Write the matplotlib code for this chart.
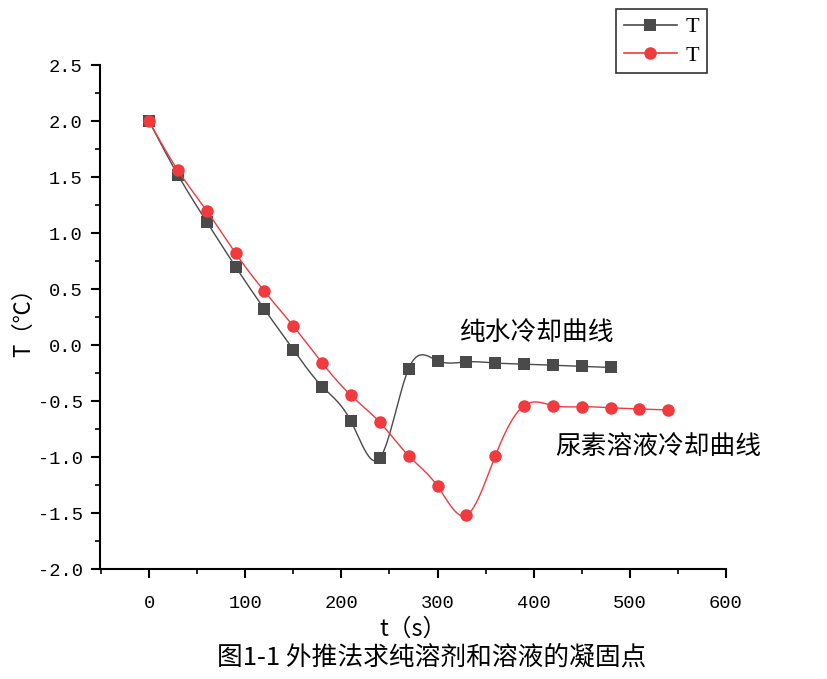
import matplotlib.pyplot as plt
import numpy as np

# dados
t_agua = [0, 30, 60, 90, 120, 150, 180, 210, 240, 270, 300, 330, 360, 390, 420, 450, 480]
T_agua = [2.00, 1.52, 1.10, 0.70, 0.32, -0.04, -0.37, -0.68, -1.01, -0.21, -0.14, -0.15,
          -0.16, -0.17, -0.18, -0.19, -0.20]

t_ureia = [0, 30, 60, 90, 120, 150, 180, 210, 240, 270, 300, 330, 360, 390, 420, 450,
           480, 510, 540]
T_ureia = [2.00, 1.56, 1.20, 0.82, 0.48, 0.17, -0.16, -0.45, -0.69, -0.99, -1.26, -1.52,
           -0.99, -0.54, -0.54, -0.55, -0.56, -0.57, -0.58]

legenda = ["T", "T"]
nota_agua = "纯水冷却曲线"
nota_ureia = "尿素溶液冷却曲线"
titulo = "图1-1 外推法求纯溶剂和溶液的凝固点"


# spline cubica natural, so para desenhar a linha suave
def spline(xs, ys, n=400):
    xs = np.asarray(xs, float)
    ys = np.asarray(ys, float)
    m = len(xs)
    h = np.diff(xs)
    A = np.zeros((m, m))
    b = np.zeros(m)
    A[0, 0] = 1
    A[-1, -1] = 1
    for i in range(1, m - 1):
        A[i, i - 1] = h[i - 1]
        A[i, i] = 2 * (h[i - 1] + h[i])
        A[i, i + 1] = h[i]
        b[i] = 6 * ((ys[i + 1] - ys[i]) / h[i] - (ys[i] - ys[i - 1]) / h[i - 1])
    M = np.linalg.solve(A, b)
    xn = np.linspace(xs[0], xs[-1], n)
    idx = np.clip(np.searchsorted(xs, xn) - 1, 0, m - 2)
    x0, x1 = xs[idx], xs[idx + 1]
    hh = x1 - x0
    a = (x1 - xn) / hh
    c = (xn - x0) / hh
    yn = a * ys[idx] + c * ys[idx + 1] + ((a ** 3 - a) * M[idx] + (c ** 3 - c) * M[idx + 1]) * hh ** 2 / 6
    return xn, yn


cinza = "#4a4a4a"
verm = "#f03a3d"
serif = ["Liberation Serif", "DejaVu Serif"]
mono = ["Liberation Mono", "DejaVu Sans Mono"]
cjk = ["Noto Sans CJK SC", "DejaVu Sans"]

fig = plt.figure(figsize=(8.28, 6.79), dpi=100)
ax = fig.add_axes([0.1208, 0.162, 0.756, 0.742])

xs, ys = spline(t_agua, T_agua)
ax.plot(xs, ys, color=cinza, lw=1)
ax.plot(t_agua, T_agua, 's', color=cinza, ms=8, mew=0)
xs, ys = spline(t_ureia, T_ureia)
ax.plot(xs, ys, color=verm, lw=1)
ax.plot(t_ureia, T_ureia, 'o', color=verm, ms=9, mew=0)

# entradas da legenda
h1, = ax.plot([], [], 's-', color=cinza, ms=8, mew=0, lw=1.2)
h2, = ax.plot([], [], 'o-', color=verm, ms=9, mew=0, lw=1.2)
leg = fig.legend([h1, h2], legenda, loc="upper left", bbox_to_anchor=(616 / 828, 1 - 9 / 679),
                 borderaxespad=0, frameon=True, fancybox=False, edgecolor="black",
                 prop={"family": serif, "size": 16}, handlelength=2.4, borderpad=0.35,
                 labelspacing=0.35, handletextpad=0.4)
leg.get_frame().set_linewidth(1.2)

ax.set_xlim(-51, 600)
ax.set_ylim(-2.0, 2.5)
ax.set_xticks(np.arange(0, 601, 100))
ax.set_xticks(np.arange(-50, 601, 50), minor=True)
ax.set_yticks(np.arange(-2.0, 2.51, 0.5))
ax.set_yticks(np.arange(-2.0, 2.51, 0.25), minor=True)
ax.set_yticklabels(["%.1f" % v for v in np.arange(-2.0, 2.51, 0.5)])

for s in ["top", "right"]:
    ax.spines[s].set_visible(False)
for s in ["left", "bottom"]:
    ax.spines[s].set_linewidth(1.5)
ax.tick_params(which="major", direction="out", length=6.5, width=1.5, labelsize=13.5, pad=6)
ax.tick_params(which="minor", direction="out", length=3.5, width=1.2)
ax.tick_params(axis="x", which="major", pad=12)
for lb in ax.get_xticklabels() + ax.get_yticklabels():
    lb.set_family(mono)

ax.set_xlabel("t（s）", family=cjk, fontsize=17, labelpad=4)
ax.set_ylabel("T（℃）", family=cjk, fontsize=16)
ax.yaxis.set_label_coords(-0.103, 0.5)

ax.text(323, 0.107, nota_agua, family=cjk, fontsize=18.5, va="center")
ax.text(422, -0.91, nota_ureia, family=cjk, fontsize=18.5, va="center")

fig.text(432 / 828, 1 - 658 / 679, titulo, family=cjk, fontsize=18.5, ha="center", va="center")

fig.savefig("out.png", dpi=100)
